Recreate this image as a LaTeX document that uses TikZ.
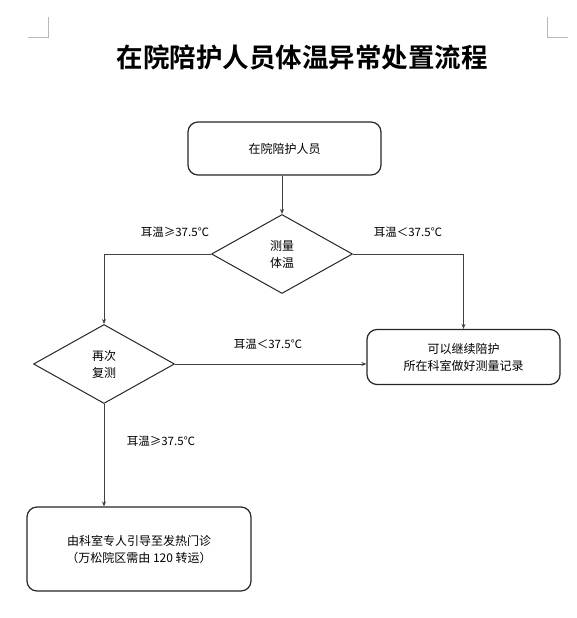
\documentclass[tikz,border=0pt]{standalone}
\usepackage{fontspec}
\newfontfamily\cjk{Noto Sans CJK SC}
\newfontfamily\cjkbold{Noto Sans CJK SC Bold}
\usetikzlibrary{shapes.geometric,arrows.meta}
\begin{document}
\begin{tikzpicture}[x=1pt,y=-1pt,
  every node/.style={font=\cjk\fontsize{12}{17}\selectfont, align=center},
  roundbox/.style={draw=black!85, line width=1.2pt, rounded corners=10pt, inner sep=0pt},
  decision/.style={diamond, draw=black!85, line width=1pt, minimum width=141pt, minimum height=79pt, inner sep=0pt},
  conn/.style={draw=black!75, line width=0.9pt},
  arr/.style={conn, -{Stealth[length=5pt,width=4pt]}},
  lbl/.style={font=\cjk\fontsize{11.5}{14}\selectfont, inner sep=0pt},
  cornermark/.style={draw=black!28, line width=0.8pt}]
\useasboundingbox (0,0) rectangle (577,618);
% corner marks
\coordinate (cl1) at (48,17); \coordinate (cl2) at (48,37); \coordinate (cl3) at (28,37);
\coordinate (cr1) at (547,17); \coordinate (cr2) at (547,37); \coordinate (cr3) at (568,37);
\draw[cornermark] (cl1) -- (cl2) -- (cl3);
\draw[cornermark] (cr1) -- (cr2) -- (cr3);
% title
\node (title) at (302,57) {\cjkbold\fontsize{26.5}{30}\selectfont 在院陪护人员体温异常处置流程};
% nodes
\node[roundbox, minimum width=193pt, minimum height=53pt] (start) at (284.5,148.5) {在院陪护人员};
\node[decision] (d1) at (282,254) {测量\\体温};
\node[decision] (d2) at (104,364) {再次\\复测};
\node[roundbox, minimum width=193pt, minimum height=55pt] (ok) at (463.5,357) {可以继续陪护\\所在科室做好测量记录};
\node[roundbox, minimum width=224pt, minimum height=84pt] (fever) at (139,549) {由科室专人引导至发热门诊\\（万松院区需由 120 转运）};
% connectors
\draw[arr] (start.south -| d1.north) -- (d1.north);
\draw[arr] (d1.west) -| (d2.north);
\draw[arr] (d1.east) -| (ok.north);
\draw[arr] (d2.east) -- (d2.east -| ok.west);
\draw[arr] (d2.south) -- (d2.south |- fever.north);
% labels
\node[lbl] (l1) at (175,232) {耳温≥37.5℃};
\node[lbl] (l2) at (408,232) {耳温＜37.5℃};
\node[lbl] (l3) at (268,344) {耳温＜37.5℃};
\node[lbl] (l4) at (161,441) {耳温≥37.5℃};
\end{tikzpicture}
\end{document}
